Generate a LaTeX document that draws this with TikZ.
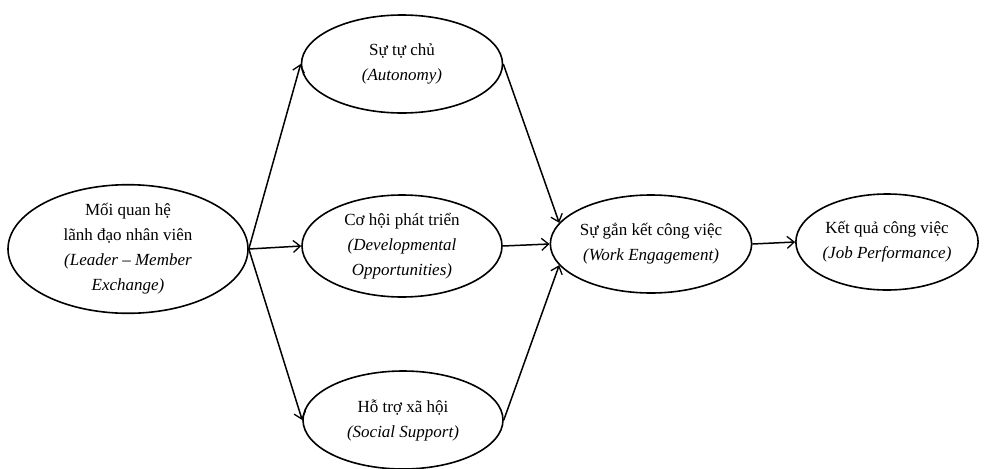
\documentclass[tikz,border=0pt]{standalone}
\usepackage{fontspec}
\setmainfont{Liberation Serif}
\usetikzlibrary{shapes.geometric,arrows.meta}
\begin{document}
\begin{tikzpicture}[x=1pt,y=-1pt,
  oval/.style={draw,ellipse,line width=1.6pt,inner sep=0pt,align=center,
    font=\fontsize{17}{25}\selectfont},
  link/.style={line width=1.5pt,-{Straight Barb[length=7pt,width=12pt,line width=1.3pt]}}]
\useasboundingbox (0,0) rectangle (989,469);
\node[oval,minimum width=240,minimum height=118] (lmx) at (128,249)
  {Mối quan hệ\\lãnh đạo nhân viên\\\textit{(Leader – Member}\\\textit{Exchange)}};
\node[oval,minimum width=201,minimum height=98] (aut) at (402,64)
  {Sự tự chủ\\\textit{(Autonomy)}};
\node[oval,minimum width=200,minimum height=102] (dev) at (402,246)
  {Cơ hội phát triển\\\textit{(Developmental}\\\textit{Opportunities)}};
\node[oval,minimum width=200,minimum height=98] (soc) at (403,420)
  {Hỗ trợ xã hội\\\textit{(Social Support)}};
\node[oval,minimum width=197,minimum height=98] (we) at (651,244)
  {Sự gắn kết công việc\\\textit{(Work Engagement)}};
\node[oval,minimum width=178,minimum height=96] (jp) at (887,242)
  {Kết quả công việc\\\textit{(Job Performance)}};
\draw[link] (lmx.east) -- (aut.west);
\draw[link] (lmx.east) -- (dev.west);
\draw[link] (lmx.east) -- (soc.west);
\draw[link] (aut.east) -- (we.167);
\draw[link] (dev.east) -- (we.west);
\draw[link] (soc.east) -- (we.193);
\draw[link] (we.east) -- (jp.west);
\end{tikzpicture}
\end{document}
